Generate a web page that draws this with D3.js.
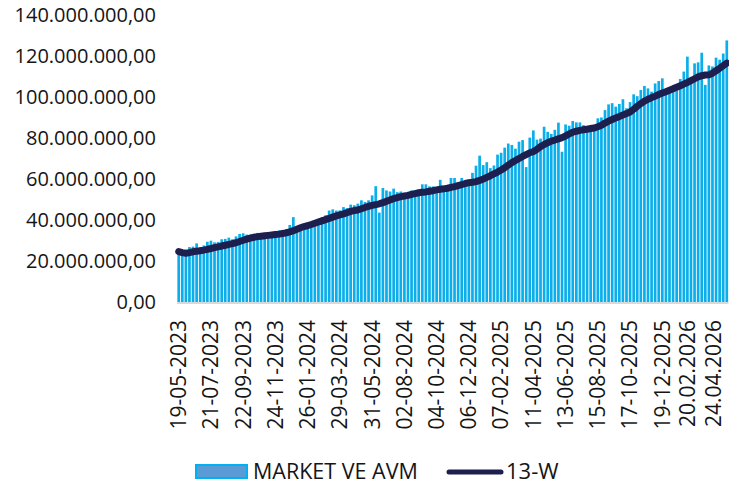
<!DOCTYPE html>
<html>
<head>
<meta charset="utf-8">
<script src="https://cdn.jsdelivr.net/npm/d3@7/dist/d3.min.js"></script>
<style>
  body { margin: 0; background: #fff; }
  svg text { font-family: "Open Sans", sans-serif; fill: #151515; }
</style>
</head>
<body>
<svg width="729" height="488"></svg>
<script>
// weekly values in millions
var marketAvm = [
  25.0, 24.2, 23.6, 26.8, 27.0, 28.6, 26.8, 27.6, 29.4, 29.9,
  29.1, 29.3, 30.6, 30.8, 31.4, 30.6, 32.0, 33.2, 33.5, 32.9,
  32.9, 32.6, 33.7, 32.6, 32.8, 33.0, 34.0, 34.6, 34.9, 34.7,
  35.6, 37.6, 41.4, 36.6, 36.1, 37.6, 36.8, 38.2, 39.8, 40.6,
  41.4, 42.3, 44.6, 45.2, 44.6, 44.7, 46.3, 45.8, 47.5, 47.2,
  48.0, 49.6, 48.8, 49.6, 52.0, 56.5, 43.6, 55.6, 54.4, 53.9,
  55.3, 53.6, 53.9, 52.8, 53.6, 54.4, 54.4, 54.2, 57.4, 57.4,
  56.4, 56.4, 56.0, 59.6, 56.0, 56.9, 60.5, 60.5, 58.5, 60.5,
  59.3, 59.3, 63.0, 66.5, 71.4, 66.8, 68.2, 65.3, 66.6, 71.9,
  72.8, 75.3, 77.3, 76.6, 74.8, 78.2, 79.0, 65.8, 80.2, 83.7,
  79.2, 79.7, 85.5, 83.0, 82.0, 84.0, 87.5, 73.3, 86.6, 86.0,
  88.3, 87.6, 87.6, 86.3, 84.7, 84.7, 84.7, 89.6, 90.0, 93.6,
  96.4, 97.0, 95.3, 96.6, 98.9, 94.5, 97.5, 101.3, 100.4, 103.4,
  105.4, 104.2, 102.6, 106.6, 107.8, 109.1, 103.1, 103.8, 104.7, 105.9,
  108.8, 112.4, 119.7, 108.5, 116.4, 116.9, 121.6, 105.9, 115.4, 114.9,
  119.2, 118.2, 121.2, 127.6
];

var w13 = [
  24.6, 24.1, 23.8, 24.1, 24.5, 24.8, 25.0, 25.3, 25.7, 26.1,
  26.5, 26.9, 27.3, 27.7, 28.1, 28.5, 28.9, 29.5, 30.1, 30.7,
  31.2, 31.6, 31.9, 32.1, 32.3, 32.5, 32.7, 32.9, 33.1, 33.4,
  33.7, 34.2, 34.8, 35.5, 36.2, 36.8, 37.3, 37.8, 38.4, 39.0,
  39.6, 40.2, 40.8, 41.4, 42.0, 42.5, 43.0, 43.6, 44.2, 44.6,
  44.9, 45.5, 46.1, 46.7, 47.1, 47.5, 47.9, 48.5, 49.1, 49.8,
  50.4, 50.9, 51.4, 51.7, 52.0, 52.5, 52.9, 53.3, 53.5, 53.7,
  54.0, 54.3, 54.7, 55.0, 55.2, 55.5, 55.9, 56.3, 56.8, 57.3,
  57.8, 58.2, 58.4, 58.7, 59.3, 60.0, 60.8, 61.6, 62.5, 63.4,
  64.4, 65.5, 66.8, 68.0, 69.0, 70.0, 71.0, 71.9, 72.8, 73.3,
  74.5, 75.8, 76.8, 77.7, 78.5, 79.0, 79.6, 80.2, 81.0, 82.0,
  82.8, 83.3, 83.7, 84.0, 84.3, 84.6, 84.9, 85.5, 86.2, 87.3,
  88.2, 89.0, 89.8, 90.5, 91.2, 91.9, 92.7, 94.0, 95.5, 96.8,
  98.0, 98.9, 99.7, 100.4, 101.2, 101.9, 102.6, 103.3, 104.0, 104.8,
  105.5, 106.3, 107.1, 108.0, 108.9, 109.8, 110.4, 110.7, 110.8, 111.6,
  112.8, 114.0, 115.3, 116.5
];

var tickLabels = [
  "19-05-2023", "21-07-2023", "22-09-2023", "24-11-2023", "26-01-2024",
  "29-03-2024", "31-05-2024", "02-08-2024", "04-10-2024", "06-12-2024",
  "07-02-2025", "11-04-2025", "13-06-2025", "15-08-2025", "17-10-2025",
  "19-12-2025", "20.02.2026", "24.04.2026"
];

var yTicks = [0, 20, 40, 60, 80, 100, 120, 140];

var svg = d3.select("svg");

// weekly Fridays from first to last label
var weeks = d3.utcFriday.range(new Date(Date.UTC(2023, 4, 19)), new Date(Date.UTC(2026, 3, 25)));

var x = d3.scaleBand()
  .domain(weeks.map(function(d) { return +d; }))
  .range([177, 728.5])
  .paddingInner(0.25)
  .paddingOuter(0.1);

var y = d3.scaleLinear()
  .domain([0, 140])
  .range([302, 15]);

var trLocale = d3.formatLocale({ decimal: ",", thousands: ".", grouping: [3], currency: ["", ""] });
var fmt = trLocale.format(",.2f");

var parseLabel = d3.utcParse("%d-%m-%Y");

// y axis labels
svg.append("g")
  .selectAll("text")
  .data(yTicks)
  .enter()
  .append("text")
    .attr("x", 156)
    .attr("y", function(d) { return y(d); })
    .attr("dy", "0.35em")
    .attr("text-anchor", "end")
    .style("font-size", "20px")
    .text(function(d) { return fmt(d * 1e6); });

// bars
svg.append("g")
  .selectAll("rect")
  .data(marketAvm)
  .enter()
  .append("rect")
    .attr("x", function(d, i) { return x(+weeks[i]); })
    .attr("width", x.bandwidth())
    .attr("y", function(d) { return y(d); })
    .attr("height", function(d) { return y(0) - y(d); })
    .attr("fill", "#0aaeeb");

// baseline
svg.append("line")
  .attr("x1", 177).attr("x2", 728.5)
  .attr("y1", y(0) + 1).attr("y2", y(0) + 1)
  .attr("stroke", "#d9d9d9")
  .attr("stroke-width", 2);

// 13-week line
var line = d3.line()
  .x(function(d, i) { return x(+weeks[i]) + x.bandwidth() / 2; })
  .y(function(d) { return y(d); });

svg.append("path")
  .datum(w13)
  .attr("d", line)
  .attr("fill", "none")
  .attr("stroke", "#1d1f4e")
  .attr("stroke-width", 7)
  .attr("stroke-linejoin", "round")
  .attr("stroke-linecap", "round");

// x labels, rotated (the dotted ones sit a bit left in the original)
svg.append("g")
  .selectAll("text")
  .data(tickLabels)
  .enter()
  .append("text")
    .attr("transform", function(d) {
      var t = parseLabel(d.replace(/\./g, "-"));
      var cx = x(+t) + x.bandwidth() / 2;
      if (d.indexOf(".") >= 0) cx = Math.min(cx - 7, 714);
      return "translate(" + cx + ",320) rotate(-90)";
    })
    .attr("dy", "0.35em")
    .attr("text-anchor", "end")
    .style("font-size", "21px")
    .text(function(d) { return d; });

// legend
var lg = svg.append("g");
lg.append("rect")
  .attr("x", 196).attr("y", 465)
  .attr("width", 51).attr("height", 13)
  .attr("fill", "#5b9bd5")
  .attr("stroke", "#00b0f0")
  .attr("stroke-width", 2);
lg.append("text")
  .attr("x", 253).attr("y", 479)
  .style("font-size", "21.5px")
  .text("MARKET VE AVM");
lg.append("line")
  .attr("x1", 449).attr("x2", 501)
  .attr("y1", 472).attr("y2", 472)
  .attr("stroke", "#1d1f4e")
  .attr("stroke-width", 5)
  .attr("stroke-linecap", "round");
lg.append("text")
  .attr("x", 506).attr("y", 479)
  .style("font-size", "22px")
  .text("13-W");
</script>
</body>
</html>
